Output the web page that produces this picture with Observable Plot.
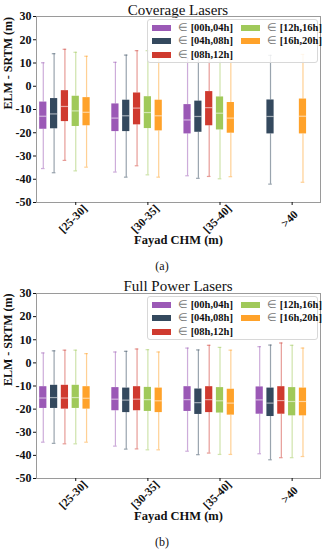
<!DOCTYPE html>
<html><head><meta charset="utf-8">
<script src="https://cdn.jsdelivr.net/npm/d3@7"></script>
<script src="https://cdn.jsdelivr.net/npm/@observablehq/plot@0.6"></script>
<style>
body{margin:0;background:#fff;width:324px;height:550px;position:relative;overflow:hidden;font-family:"Liberation Serif",serif;color:#111}
.abs{position:absolute}
.title{left:36px;width:284px;text-align:center;font-size:15px;height:16px;line-height:16px}
.cap{left:0;width:324px;text-align:center;font-size:12px;height:16px;line-height:16px}
.legend{position:absolute;left:147px;width:171px;height:44px;border:1px solid #d8d8d8;border-radius:3px;background:rgba(255,255,255,0.85);box-sizing:border-box}
.sw{position:absolute;width:19px;height:6px}
.lt{position:absolute;font-size:10.5px;font-weight:bold;height:12px;line-height:12px;white-space:nowrap}
.lt span{font-weight:normal;color:#777}
</style></head><body>
<script>
const categories = ["[25-30]", "[30-35]", "[35-40]", ">40"];
const series = ["[00h,04h]", "[04h,08h]", "[08h,12h]", "[12h,16h]", "[16h,20h]"];
const colors = ["#9b59b6", "#34495e", "#cf3a2f", "#a0c95a", "#ffa22a"];
const offsets = [-0.45, -0.3, -0.15, 0, 0.15];
const yTicks = [-50, -40, -30, -20, -10, 0, 10, 20, 30];

// Coverage Lasers (a): per series, per category
const covHigh = [[10.1, 10.3, 12, null], [14.0, 13.4, 13, 13.3], [15.9, 15.3, 15, null], [14.6, 15.3, 14, null], [12.9, 12, 12.4, 13.7]];
const covQ3 = [[-6.8, -7.6, -7.9, null], [-5.3, -6.0, -6.4, -5.9], [-1.9, -2.9, -2.3, null], [-4.3, -4.5, -4.6, null], [-4.9, -6.0, -7.0, -5.5]];
const covMed = [[-12.9, -13.7, -14.5, null], [-11.9, -12.7, -13.0, -13.0], [-8.7, -9.4, -9.2, null], [-10.6, -11.3, -11.6, null], [-11.2, -12.7, -13.7, -12.9]];
const covQ1 = [[-18.5, -19.5, -20.5, null], [-18.3, -19.5, -19.8, -20.5], [-15.2, -16.6, -17.0, null], [-17.3, -18.2, -18.8, null], [-17.0, -19.2, -20.2, -20.5]];
const covLow = [[-35.4, -36.9, -38.5, null], [-37.2, -39.1, -39.6, -42.1], [-31.9, -34.2, -38.8, null], [-36.4, -38.1, -39.8, null], [-34.8, -39.1, -38.9, -41.3]];

// Full Power Lasers (b)
const fpHigh = [[4.3, 4.7, 6.4, 7.0], [5.2, 5.0, 5.6, 7.7], [5.5, 6.0, 7.6, 8.6], [5.5, 5.7, 6.7, 7.6], [4.0, 4.7, 5.5, 6.4]];
const fpQ3 = [[-10.3, -10.7, -10.3, -10.4], [-9.7, -10.9, -11.3, -10.9], [-9.7, -10.3, -10.3, -10.3], [-9.7, -10.6, -10.7, -10.7], [-10.3, -10.9, -11.4, -10.9]];
const fpMed = [[-15.2, -15.7, -15.9, -16.0], [-15.0, -16.1, -17.2, -17.4], [-15.2, -15.7, -15.9, -16.3], [-15.0, -15.9, -16.4, -16.7], [-15.3, -16.4, -17.4, -16.7]];
const fpQ1 = [[-19.7, -20.7, -21.0, -22.2], [-19.7, -21.5, -22.3, -23.2], [-20.0, -20.7, -21.5, -22.2], [-19.7, -21.0, -21.7, -22.9], [-20.0, -21.5, -22.6, -22.9]];
const fpLow = [[-34.3, -36.0, -38.2, -39.3], [-34.8, -37.3, -39.7, -41.9], [-35.0, -37.2, -39.0, -41.0], [-35.0, -37.6, -39.6, -41.0], [-34.3, -37.6, -39.6, -40.5]];

const panels = [
  {title: "Coverage Lasers", cap: "(a)", titleTop: 2, svgTop: 12, capTop: 258, mt: 4,
   low: covLow, q1: covQ1, med: covMed, q3: covQ3, high: covHigh},
  {title: "Full Power Lasers", cap: "(b)", titleTop: 278, svgTop: 288, capTop: 534, mt: 5,
   low: fpLow, q1: fpQ1, med: fpMed, q3: fpQ3, high: fpHigh}
];

const BW = 0.1, CW = 0.025;

function add(el) { document.body.appendChild(el); return el; }

for (const p of panels) {
  const rows = [];
  series.forEach((s, si) => categories.forEach((c, ci) => {
    if (p.q1[si][ci] == null) return;
    rows.push({series: s, pos: ci + offsets[si], low: p.low[si][ci], q1: p.q1[si][ci], med: p.med[si][ci], q3: p.q3[si][ci], high: p.high[si][ci]});
  }));

  const t = document.createElement("div");
  t.className = "abs title"; t.style.top = p.titleTop + "px"; t.textContent = p.title; add(t);

  const chart = Plot.plot({
    width: 324, height: 240,
    marginLeft: 36, marginRight: 4, marginTop: p.mt, marginBottom: 50,
    style: {fontFamily: "Liberation Serif, serif", fontSize: "12px", fontWeight: "bold", background: "transparent", overflow: "visible"},
    x: {domain: [-0.544, 3.393]},
    y: {domain: [-50, 30]},
    color: {domain: series, range: colors},
    marks: [
      Plot.ruleX(rows, {x: "pos", y1: "q3", y2: "high", stroke: "series", strokeOpacity: 0.5, strokeWidth: 1.2}),
      Plot.ruleX(rows, {x: "pos", y1: "low", y2: "q1", stroke: "series", strokeOpacity: 0.5, strokeWidth: 1.2}),
      Plot.ruleY(rows, {y: "high", x1: d => d.pos - CW, x2: d => d.pos + CW, stroke: "series", strokeOpacity: 0.5, strokeWidth: 1.2}),
      Plot.ruleY(rows, {y: "low", x1: d => d.pos - CW, x2: d => d.pos + CW, stroke: "series", strokeOpacity: 0.5, strokeWidth: 1.2}),
      Plot.rect(rows, {x1: d => d.pos - BW / 2, x2: d => d.pos + BW / 2, y1: "q1", y2: "q3", fill: "series"}),
      Plot.ruleY(rows, {y: "med", x1: d => d.pos - BW / 2, x2: d => d.pos + BW / 2, stroke: "white", strokeOpacity: 0.55, strokeWidth: 1.2}),
      Plot.frame({stroke: "#9a9a9a"}),
      Plot.axisY({ticks: yTicks, tickSize: 3, tickPadding: 2, tickFormat: d => `${d}`, label: null, fontWeight: "bold", fontSize: 12}),
      Plot.axisX({ticks: [0, 1, 2, 3], tickSize: 3, tickFormat: () => "", label: null}),
      Plot.text(categories, {x: (d, i) => i, text: d => d, frameAnchor: "bottom", dy: 19, rotate: -45, textAnchor: "middle", fontSize: 11.5}),
      Plot.text(["Fayad CHM (m)"], {text: d => d, frameAnchor: "bottom", dy: 41, fontSize: 12.5}),
      Plot.text(["ELM - SRTM (m)"], {text: d => d, frameAnchor: "left", dx: -28, rotate: -90, fontSize: 12})
    ]
  });
  const wrap = document.createElement("div");
  wrap.className = "abs"; wrap.style.left = "0px"; wrap.style.top = p.svgTop + "px";
  wrap.appendChild(chart); add(wrap);

  // legend overlay
  const frameTop = p.svgTop + p.mt;
  const lg = document.createElement("div");
  lg.className = "legend"; lg.style.top = (frameTop + 3) + "px";
  series.forEach((s, si) => {
    const col = si < 3 ? 0 : 1, row = si < 3 ? si : si - 3;
    const left = col ? 93 : 4;
    const cy = 7.5 + row * 13.8;
    const sw = document.createElement("div");
    sw.className = "sw"; sw.style.left = left + "px"; sw.style.top = (cy - 3) + "px"; sw.style.background = colors[si];
    lg.appendChild(sw);
    const tx = document.createElement("div");
    tx.className = "lt"; tx.style.left = (left + 26) + "px"; tx.style.top = (cy - 6) + "px";
    tx.innerHTML = "<span>\u2208</span> " + s;
    lg.appendChild(tx);
  });
  add(lg);

  const c = document.createElement("div");
  c.className = "abs cap"; c.style.top = p.capTop + "px"; c.textContent = p.cap; add(c);
}
</script>
</body></html>
